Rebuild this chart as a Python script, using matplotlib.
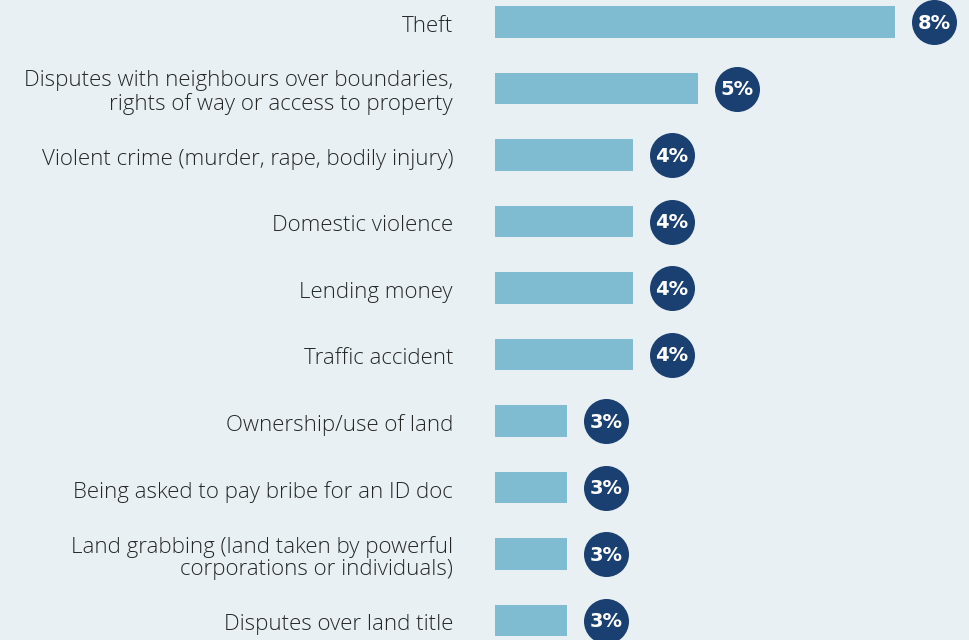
import matplotlib.pyplot as plt
from matplotlib.transforms import offset_copy

categories = [
    "Theft",
    "Disputes with neighbours over boundaries,\nrights of way or access to property",
    "Violent crime (murder, rape, bodily injury)",
    "Domestic violence",
    "Lending money",
    "Traffic accident",
    "Ownership/use of land",
    "Being asked to pay bribe for an ID doc",
    "Land grabbing (land taken by powerful\ncorporations or individuals)",
    "Disputes over land title",
]
values = [8, 5, 4, 4, 4, 4, 3, 3, 3, 3]
value_labels = ["8%", "5%", "4%", "4%", "4%", "4%", "3%", "3%", "3%", "3%"]

bg = "#e8f0f4"
bar_color = "#7fbbd1"
dot_color = "#1a4072"
text_color = "#262626"

fig = plt.figure(figsize=(9.69, 6.4), dpi=100, facecolor=bg)
ax = fig.add_axes([495 / 969, 0, 1 - 495 / 969, 1])
ax.set_facecolor(bg)

y = list(range(len(values)))
ax.barh(y, values, height=0.48, color=bar_color)

# dots sit a fixed distance to the right of each bar end
dot_tr = offset_copy(ax.transData, fig=fig, x=39, y=0, units="dots")
ax.scatter(values, y, s=1050, color=dot_color, transform=dot_tr, zorder=3,
           clip_on=False, linewidths=0)
lab_tr = offset_copy(ax.transData, fig=fig, x=39, y=-1, units="dots")
for v, yy, lab in zip(values, y, value_labels):
    ax.text(v, yy, lab, transform=lab_tr, ha="center", va="center",
            color="white", fontsize=14, fontweight="bold",
            family="DejaVu Sans", zorder=4)

for yy, cat in zip(y, categories):
    ax.annotate(cat, xy=(0, yy), xycoords=("axes fraction", "data"),
                xytext=(-42, -4), textcoords="offset pixels",
                ha="right", va="center", fontsize=16, color=text_color,
                family="Open Sans", fontweight="light", linespacing=1.12)

ax.set_xlim(1.9, 1.9 + 474 / 65.6)
ax.set_ylim(9.293, -0.331)
ax.axis("off")

fig.savefig("out.png", dpi=100, facecolor=bg)
